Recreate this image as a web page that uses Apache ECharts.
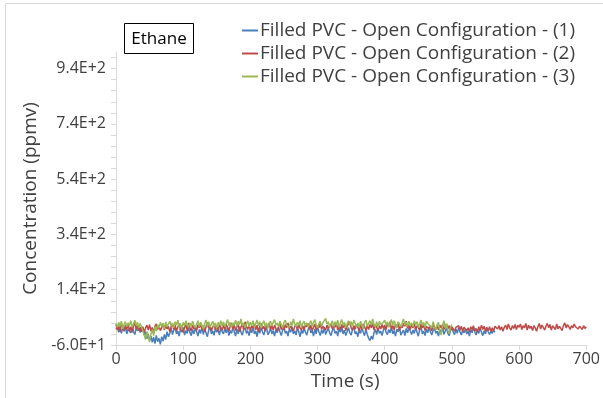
<!DOCTYPE html>
<html>
<head>
<meta charset="utf-8">
<script src="https://cdn.jsdelivr.net/npm/echarts@6/dist/echarts.min.js"></script>
<style>
  html, body { margin: 0; padding: 0; background: #fff; }
  #chart { width: 603px; height: 398px; }
</style>
</head>
<body>
<div id="chart"></div>
<script>
// 数据：每 2 秒一个采样点
const STEP = 2;
const seriesNames = [
  'Filled PVC - Open Configuration - (1)',
  'Filled PVC - Open Configuration - (2)',
  'Filled PVC - Open Configuration - (3)'
];
// (1) 0 ~ 564 s
const run1 = [
  -2, 8, -14, 5, -18, 2, -10, 6, -20, -3, 4, -16, 8, -12, -22, 0, -8, 6, -15, 3,
  -6, -24, -12, -38, -20, -45, -28, -50, -32, -55, -25, -48, -36, -58, -30, -46, -22, -40, -12, -30,
  -18, 2, -22, -6, 5, -20, -10, -28, 0, -14, 4, -24, -8, -18, 6, -15, -26, -4, -20, 2,
  -12, -28, -4, -18, 6, -22, -2, -16, -30, -6, 4, -20, -9, -25, 2, -14, -4, -24, 3, -12,
  -20, 0, -16, 5, -26, -8, -18, 4, -12, -28, -2, -20, 6, -14, -24, -5, 8, -18, -8, -26,
  -4, -16, 6, -20, -10, -30, -2, -18, 5, -12, -24, -6, 3, -22, -14, 2, -20, -8, -28, -4,
  -16, 4, -12, -26, -6, 7, -18, -10, -28, -2, -14, 6, -20, -8, -24, 3, -12, -30, -6, -18,
  2, -14, -24, -4, 8, -16, -8, -28, -2, -20, 5, -12, -26, -6, -18, 4, -22, -10, 1, -16,
  -26, -8, 4, -18, -10, -28, 0, -14, 6, -20, -6, -26, -12, 3, -16, -24, -4, 6, -20, -12,
  -30, -6, -18, 4, -14, -26, -2, -22, -36, -44, -28, -40, -16, -4, -22, 2, -18, -10, -26, -6,
  5, -14, -22, -4, -16, 6, -20, -8, -28, -2, -12, 4, -24, -14, -6, -26, 0, -16, 3, -10,
  -22, -6, -18, 4, -14, -28, -4, 6, -20, -10, -26, -2, -16, 5, -12, -24, -8, 2, -18, -10,
  -28, -4, -16, 6, -22, -10, 2, -18, -26, -6, 4, -14, -22, -2, -18, 3, -12, -24, -8, -16,
  -2, -20, -10, -28, -4, -16, 5, -12, -24, -6, -18, 2, -14, -26, -8, -20, 0, -12, -22, -10,
  -18, -6, -14
];
// (2) 0 ~ 700 s
const run2 = [
  14, -6, 10, -12, 18, 2, -8, 12, -4, 16, -10, 6, -14, 8, 20, -2, 10, -8, 4, -12,
  6, -16, 2, 12, -6, 14, -10, 4, -18, 8, 16, -4, 10, -8, 2, 18, -6, 12, -2, 8,
  -12, 6, 16, -4, 12, -10, 4, 18, -6, 10, -14, 2, 14, -8, 20, 4, -10, 12, -2, 8,
  -8, 14, 2, 18, -6, 10, -12, 6, 22, 0, 12, -8, 4, 16, -4, 10, -10, 14, 2, -6,
  12, -4, 16, 4, -10, 8, 20, -2, 12, -8, 6, 14, -12, 4, 18, -6, 24, 8, -4, 12,
  -8, 10, 2, 16, -6, 12, -12, 6, 18, -2, 8, -10, 14, 4, 20, -4, 10, -6, 12, 0,
  -10, 8, 16, -4, 10, -6, 14, 2, 20, -2, 8, 12, -8, 6, 16, -4, 12, 2, -6, 10,
  -4, 14, 6, 18, -2, 12, -8, 4, 16, -6, 10, 2, 18, -4, 8, 14, -6, 12, 0, 8,
  16, -2, 12, 4, 20, -6, 10, -4, 14, 2, 18, -8, 8, 12, 24, 2, -6, 10, -2, 14,
  4, -10, 12, -2, 16, 6, -8, 10, -4, 14, 2, 18, -6, 12, 4, -8, 10, -2, 14, 0,
  12, -4, 18, 6, 24, -2, 10, -6, 16, 4, 20, -8, 12, 2, 18, 8, 26, 0, 12, -4,
  14, 2, 18, -4, 10, 6, -6, 16, 2, 12, -8, 8, 14, -2, 10, -10, 16, 4, -4, 10,
  -6, 12, 2, 14, -4, 8, 16, -2, 10, -8, 6, 12, -10, 4, -2, 10, -6, 8, -12, 4,
  8, -8, 2, -12, 6, -4, 10, -10, 0, -14, 6, -6, 12, -4, 8, -10, 4, -8, 6, -12,
  2, -10, 8, 14, -2, 10, -6, 6, -10, 4, 12, -4, 16, 2, -6, 10, 0, 14, -4, 12,
  4, 16, -4, 10, 2, 18, -6, 12, 0, 8, -8, 10, 2, -10, 6, 18, -2, 12, 4, -6,
  8, 18, 2, 14, -6, 10, 4, -4, 16, -2, 8, 14, -8, 10, 20, 2, 14, 6, -4, 10,
  2, 16, 6, 12, -2, 8, 14, -4, 10, 0, 6
];
// (3) 0 ~ 500 s
const run3 = [
  18, 4, 22, 8, 26, -2, 14, 24, 6, 20, 10, 28, 4, 16, 30, 10, 22, 2, 18, 6,
  -8, -24, -40, -12, -30, -48, -20, -4, -26, 6, -10, 14, 2, 22, 8, 18, -2, 24, 6, 16,
  26, 8, 20, 2, 24, 12, 30, 4, 18, -4, 22, 10, 28, 14, 4, 20, 8, 26, 12, 2,
  16, 28, 6, 22, 10, -2, 18, 30, 8, 24, 4, 16, 26, 6, 20, 0, 22, 12, 28, 8,
  24, 6, 18, 32, 10, 22, 4, 20, 12, 30, 8, 26, 14, 34, 10, 20, 2, 16, 28, 6,
  22, 12, 28, 4, 18, 30, 10, 24, 2, 16, 28, 8, 20, 0, 18, 26, 10, 22, 32, 12,
  20, 6, 26, 14, 2, 22, 30, 12, 18, 4, 24, 10, 34, 16, 6, 22, 12, 28, 4, 18,
  26, 10, 20, 4, 16, 28, 8, 22, 32, 12, 2, 18, 26, 8, 20, 14, 36, 16, 24, 6,
  14, 28, 6, 24, 12, 30, 4, 20, 32, 10, 22, 2, 16, 28, 12, 24, 8, 30, 18, 6,
  20, 4, 26, 10, -2, 22, 30, 8, 18, 28, 12, 34, 16, 6, 24, 2, 26, 14, 8, 22,
  30, 12, 24, 4, 18, 32, 10, 28, 14, 2, 24, 16, 6, 20, 34, 12, 22, 8, 26, 10,
  20, 6, 28, 14, 24, 2, 18, 30, 10, 22, 4, 26, 32, 12, 18, 2, 24, 8, -6, 14,
  22, -10, -24, 10, 28, 2, 16, -8, -18, 4, 14
];
// 坐标轴刻度
const yLabelValues = [-60, 140, 340, 540, 740, 940];
const yLabelTexts = ['-6.0E+1', '1.4E+2', '3.4E+2', '5.4E+2', '7.4E+2', '9.4E+2'];
const yTickValues = [-60, -20, 20, 60, 100, 140, 180, 220, 260, 300, 340, 380, 420, 460,
  500, 540, 580, 620, 660, 700, 740, 780, 820, 860, 900, 940, 980];
const colors = ['#4a7ebb', '#be4b48', '#98b954'];

const toPoints = arr => arr.map((v, i) => [i * STEP, v]);
const font = '"Open Sans", Lato, sans-serif';
const textColor = '#404040';

let myChart = echarts.init(document.getElementById('chart'));
myChart.setOption({
  animation: false,
  color: colors,
  textStyle: { fontFamily: font },
  grid: { left: 116, right: 16, top: 52, bottom: 53 },
  graphic: [
    {// 外框
      type: 'rect',
      shape: { x: 5.5, y: 3.5, width: 620, height: 420 },
      style: { fill: null, stroke: '#d9d9d9', lineWidth: 1 }
    },
    {// Ethane 标签框
      type: 'rect',
      shape: { x: 124.5, y: 23.5, width: 69, height: 30 },
      style: { fill: '#fff', stroke: '#000', lineWidth: 1 }
    },
    {
      type: 'text',
      x: 159, y: 39,
      style: { text: 'Ethane', fontSize: 17, fontFamily: font, fill: '#000', align: 'center', verticalAlign: 'middle' }
    }
  ],
  legend: {
    orient: 'vertical',
    left: 242,
    top: 21,
    padding: 0,
    itemWidth: 16,
    itemHeight: 2,
    itemGap: 4,
    icon: 'rect',
    data: seriesNames,
    textStyle: { fontSize: 19, lineHeight: 17, color: textColor, fontFamily: font, padding: [0, 0, 0, -3] }
  },
  xAxis: {
    type: 'value',
    min: 0,
    max: 700,
    interval: 100,
    name: 'Time (s)',
    nameLocation: 'middle',
    nameGap: 27,
    nameTextStyle: { fontSize: 19, color: textColor, padding: [0, 12, 0, 0] },
    axisLine: { onZero: false, lineStyle: { color: '#d9d9d9' } },
    axisTick: { show: true, length: 5, lineStyle: { color: '#d9d9d9' } },
    axisLabel: { fontSize: 16, color: textColor, margin: 6 },
    splitLine: { show: false }
  },
  yAxis: {
    type: 'value',
    min: -60,
    max: 1000,
    name: 'Concentration (ppmv)',
    nameLocation: 'middle',
    nameGap: 74,
    nameTextStyle: { fontSize: 19, color: textColor },
    axisLine: { show: true, lineStyle: { color: '#d9d9d9' } },
    axisTick: { show: true, length: 5, customValues: yTickValues, lineStyle: { color: '#d9d9d9' } },
    axisLabel: {
      fontSize: 16, color: textColor, margin: 10,
      customValues: yLabelValues,
      formatter: v => yLabelTexts[yLabelValues.indexOf(v)]
    },
    splitLine: { show: false }
  },
  series: [run1, run2, run3].map((arr, i) => ({
    name: seriesNames[i],
    type: 'line',
    data: toPoints(arr),
    showSymbol: false,
    lineStyle: { width: 1.5 },
    z: i === 2 ? 4 : (i === 1 ? 3 : 2)
  }))
});
</script>
</body>
</html>
